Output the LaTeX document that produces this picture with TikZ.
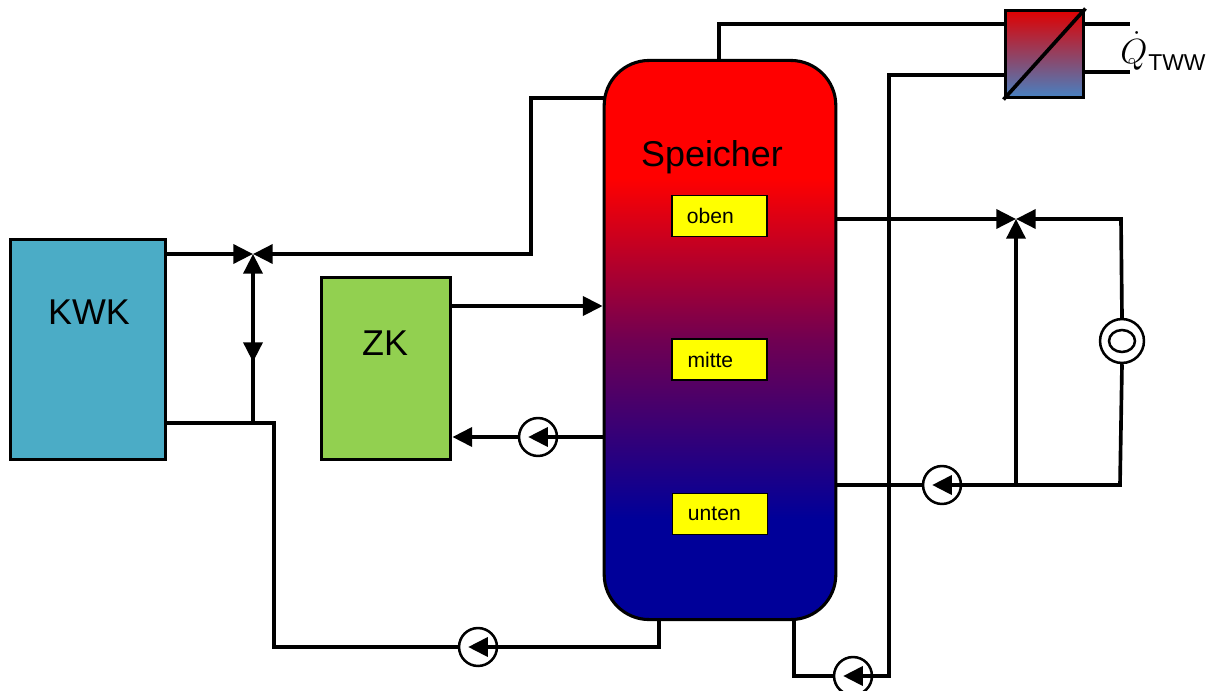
\documentclass[tikz,border=0pt]{standalone}
\usepackage{amsmath}
\usepackage{xcolor}
\usepackage{fontspec}
\setmainfont{Liberation Sans}
\usetikzlibrary{arrows.meta,calc,positioning,shapes.geometric}
\definecolor{kwkBlue}{RGB}{75,172,198}
\definecolor{zkGreen}{RGB}{146,208,80}
\definecolor{sensorYellow}{RGB}{255,255,0}
\definecolor{hxRed}{RGB}{224,0,0}
\definecolor{hxBlue}{RGB}{70,130,195}
\pgfdeclareverticalshading{storageShade}{100bp}{
    rgb(0bp)=(0,0,0.6);
    rgb(34bp)=(0,0,0.6);
    rgb(50bp)=(0.44,0,0.32);
    rgb(64.5bp)=(1,0,0);
    rgb(100bp)=(1,0,0)}
\tikzstyle{tsBlock} = [
    rectangle,
    draw=black,
    line width=2.2pt,
    inner sep=0pt]
\tikzstyle{tsSensor} = [
    rectangle,
    draw=black,
    line width=1.2pt,
    fill=sensorYellow,
    minimum width=95*0.71pt,
    minimum height=41*0.71pt,
    inner sep=0pt,
    font=\fontsize{15pt}{17pt}\selectfont]
\tikzstyle{tsLabel} = [
    font=\fontsize{25.5pt}{30pt}\selectfont]
\tikzstyle{tsPump} = [
    circle,
    draw=black,
    line width=1.8pt,
    minimum size=38*0.71pt,
    inner sep=0pt]
\tikzstyle{tsPipe} = [
    line width=2.6pt,
    line join=miter]
\tikzstyle{tsFlow} = [
    tsPipe,
    -{Triangle[length=14pt,width=13.5pt]}]

\begin{document}
\begin{tikzpicture}[x=0.025cm,y=-0.025cm]
    \useasboundingbox (0,0) rectangle (1211,691);

    % blocks
    \node[tsBlock, fill=kwkBlue, minimum width=156*0.71pt, minimum height=221*0.71pt] (kwk) at (88,349.5) { };
    \node[tsBlock, fill=zkGreen, minimum width=130*0.71pt, minimum height=183*0.71pt] (zk) at (386,368.5) { };
    \node[tsBlock, shading=storageShade, rounded corners=32pt, minimum width=232*0.71pt, minimum height=560*0.71pt] (speicher) at (720,340) { };
    \node[tsBlock, top color=hxRed, bottom color=hxBlue, minimum width=79*0.71pt, minimum height=88*0.71pt] (hx) at (1044.5,54) { };

    \node[tsLabel] (kwkText) at (89,312) {KWK};
    \node[tsLabel] (zkText) at (385,343) {ZK};
    \node[tsLabel] (speicherText) at (712,157) {Speicher};

    \node[tsSensor] (oben) at (719.5,216) {\hspace*{-13pt}oben};
    \node[tsSensor] (mitte) at (719.5,359.5) {\hspace*{-13pt}mitte};
    \node[tsSensor] (unten) at (720,514) {\hspace*{-8pt}unten};

    % valves, pumps, consumer
    \coordinate (valveKwk) at (253,254);
    \coordinate (valveLoad) at (1016,219);
    \node[tsPump] (pumpZk) at (538,437) { };
    \node[tsPump] (pumpKwk) at (478,647) { };
    \node[tsPump] (pumpLoad) at (942,485) { };
    \node[tsPump] (pumpTww) at (853,676) { };
    \node[tsPump, minimum size=44*0.71pt] (consumer) at (1122,341) { };
    \node[tsPump, ellipse, minimum width=26*0.71pt, minimum height=22*0.71pt] (consumerIn) at (1122,341) { };

    % bends and free ends
    \coordinate (kwkUp) at (kwk.east |- valveKwk);
    \coordinate (kwkDown) at (166,423);
    \coordinate (teeKwk) at (valveKwk |- kwkDown);
    \coordinate (midKwk) at (253,345);
    \coordinate (spUp) at (604,98);
    \coordinate (spTop) at (719,60);
    \coordinate (spKwk) at (659,620);
    \coordinate (spTww) at (794,620);
    \coordinate (spLoadUp) at (836,219);
    \coordinate (spLoadDown) at (836,485);
    \coordinate (teeLoad) at (1016,485);
    \coordinate (loadCorner) at (1121,219);
    \coordinate (hxIn) at (1005,24);
    \coordinate (hxBack) at (1005,75);
    \coordinate (hxOutA) at (1084,24);
    \coordinate (hxOutB) at (1084,72);
    \coordinate (qEndA) at (1130,24);
    \coordinate (qEndB) at (1130,72);

    % connectors
    \draw[tsFlow] (kwkUp) -- (valveKwk);
    \draw[tsFlow] (spUp) -- (531,98) -- (531,254) -- (valveKwk);
    \draw[tsFlow] (teeKwk) -- (midKwk) -- ++(0,17);
    \draw[tsFlow] (midKwk) -- (valveKwk);
    \draw[tsPipe] (kwkDown) -- (274,423) -- (274,647) -- (pumpKwk.west);
    \draw[tsFlow] (spKwk) -- (659,647) -- ([xshift=-7pt]pumpKwk.center);

    \draw[tsFlow] (zk.east |- 0,306) -- (speicher.west |- 0,306);
    \draw[tsFlow] (pumpZk.west) -- (zk.east |- pumpZk);
    \draw[tsFlow] (speicher.west |- pumpZk) -- ([xshift=-7pt]pumpZk.center);

    \draw[tsPipe] (spTop) -- (719,24) -- (hxIn);
    \draw[tsPipe] (hx.south west) -- (hx.north east);
    \draw[tsPipe] (hxOutA) -- (qEndA);
    \draw[tsPipe] (hxOutB) -- (qEndB);
    \draw[tsPipe] (hxBack) -- (889,75) -- (889,676) -- (pumpTww.east);
    \draw[tsPipe] (spTww) -- (794,676) -- (pumpTww.west);
    \draw[tsFlow] (pumpTww.east) -- ([xshift=-7pt]pumpTww.center);

    \draw[tsFlow] (spLoadUp) -- (valveLoad);
    \draw[tsFlow] (teeLoad) -- (valveLoad);
    \draw[tsFlow] (consumer.north) -- (loadCorner) -- (valveLoad);
    \draw[tsPipe] (consumer.south) -- (1120,485) -- (pumpLoad.east);
    \draw[tsPipe] (spLoadDown) -- (pumpLoad.west);
    \draw[tsFlow] (pumpLoad.east) -- ([xshift=-7pt]pumpLoad.center);

    \node[anchor=west, inner sep=0pt] (qDot) at (1120,51) {\fontsize{30pt}{32pt}\selectfont$\dot{Q}$};
    \node[anchor=west, inner sep=0pt, font=\fontsize{16.3pt}{20pt}\selectfont] (qText) at (1148,63) {TWW};
\end{tikzpicture}
\end{document}
